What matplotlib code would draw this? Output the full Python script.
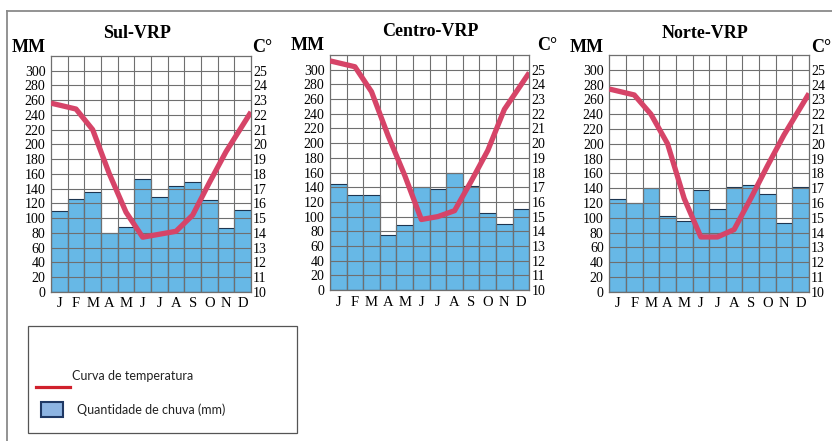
import numpy as np
import matplotlib
matplotlib.use('Agg')
from matplotlib import pyplot as plt
from matplotlib.lines import Line2D
from matplotlib.patches import Rectangle

# ── data ────────────────────────────────────────────────────────────────────
MONTHS = ['J', 'F', 'M', 'A', 'M', 'J', 'J', 'A', 'S', 'O', 'N', 'D']
TITLES = ['Sul-VRP', 'Centro-VRP', 'Norte-VRP']

RAIN_SUL    = [110, 126, 135, 80, 88, 153, 128, 144, 149, 125, 87, 111]
RAIN_CENTRO = [145, 130, 130, 75, 89, 140, 137, 160, 142, 105, 90, 110]
RAIN_NORTE  = [125, 120, 140, 103, 96, 137, 112, 142, 144, 132, 93, 141]

TEMP_SUL    = [22.8, 22.4, 21.0, 18.0, 15.4, 13.7, 13.9, 14.1, 15.2, 17.4, 19.5, 22.2]
TEMP_CENTRO = [25.6, 25.2, 23.5, 20.5, 17.8, 14.8, 15.0, 15.4, 17.4, 19.5, 22.3, 24.8]
TEMP_NORTE  = [23.7, 23.3, 22.0, 20.0, 16.3, 13.7, 13.7, 14.2, 16.3, 18.5, 20.6, 23.4]

RAIN = [RAIN_SUL, RAIN_CENTRO, RAIN_NORTE]
TEMP = [TEMP_SUL, TEMP_CENTRO, TEMP_NORTE]

MM_TICKS = list(range(0, 301, 20))
C_TICKS  = list(range(10, 26))

LEG_LINE = 'Curva de temperatura'
LEG_BAR  = 'Quantidade de chuva (mm)'

# ── style ───────────────────────────────────────────────────────────────────
W, H    = 832, 441
SERIF   = 'Liberation Serif'
BAR_C   = '#67B8E6'
BAR_EC  = '#1D3550'
GRID_C  = '#6f6f6f'
TEMP_C  = '#D64468'
FS      = 10

# axes boxes in pixels: left, right, top, bottom
BOXES = [(51, 251, 56, 291.7), (330, 529.3, 55, 290), (609.3, 809, 55, 291.7)]
TITLE_XY = [(137, 33), (430, 32), (705, 33)]
MM_XY    = [(28.5, 47), (308, 45), (587, 47)]
C_XY     = [(252, 47), (537, 45), (811, 47)]


def fx(px):
    return px / W


def fy(py):
    return 1 - py / H


fig = plt.figure(figsize=(W / 100, H / 100), dpi=100)

for i in range(3):
    l, r, t, b = BOXES[i]
    ax = fig.add_axes([fx(l), fy(b), fx(r - l), (b - t) / H])
    x = np.arange(12) + 0.5
    ax.bar(x, RAIN[i], width=1.0, color=BAR_C, edgecolor=BAR_EC,
           linewidth=0.8, zorder=1)
    ax.set_xlim(0, 12)
    ax.set_ylim(0, 320)

    # grid drawn above the bars, like in the printed climogram
    ax.set_axisbelow(False)
    ax.set_yticks(MM_TICKS)
    ax.set_xticks(x)
    ax.set_xticklabels(MONTHS, fontfamily=SERIF, fontsize=FS + 0.5)
    ax.set_xticks(np.arange(1, 12), minor=True)
    ax.grid(True, axis='y', which='major', color=GRID_C, linewidth=0.8)
    ax.grid(True, axis='x', which='minor', color=GRID_C, linewidth=0.8)
    ax.tick_params(axis='both', which='both', length=0)
    ax.tick_params(axis='y', pad=4)
    ax.tick_params(axis='x', pad=4)
    for lab in ax.get_yticklabels():
        lab.set_fontfamily(SERIF)
        lab.set_fontsize(FS)
    for sp in ax.spines.values():
        sp.set_color(GRID_C)
        sp.set_linewidth(0.9)

    ax2 = ax.twinx()
    ax2.set_ylim(10, 26)
    ax2.set_yticks(C_TICKS)
    ax2.tick_params(axis='y', length=0, pad=1.5)
    for lab in ax2.get_yticklabels():
        lab.set_fontfamily(SERIF)
        lab.set_fontsize(FS)
    for sp in ax2.spines.values():
        sp.set_visible(False)

    # first and last points of the curve sit on the frame edges
    tx = np.arange(12) + 0.5
    tx[0] = 0
    tx[-1] = 12
    ax2.plot(tx, TEMP[i], color=TEMP_C, linewidth=3.8,
             solid_joinstyle='round', solid_capstyle='butt', zorder=5)

    fig.text(fx(TITLE_XY[i][0]), fy(TITLE_XY[i][1]), TITLES[i],
             ha='center', va='center', fontfamily=SERIF,
             fontweight='bold', fontsize=13)
    fig.text(fx(MM_XY[i][0]), fy(MM_XY[i][1]), 'MM',
             ha='center', va='center', fontfamily=SERIF,
             fontweight='bold', fontsize=13)
    fig.text(fx(C_XY[i][0]), fy(C_XY[i][1]), 'C°',
             ha='left', va='center', fontfamily=SERIF,
             fontweight='bold', fontsize=13)

# ── outer frame (top and left rules) ────────────────────────────────────────
fig.add_artist(Line2D([fx(7), 1], [fy(11), fy(11)], color='#8a8a8a',
                      linewidth=1.3, transform=fig.transFigure))
fig.add_artist(Line2D([fx(7), fx(7)], [fy(11), 0], color='#8a8a8a',
                      linewidth=1.3, transform=fig.transFigure))

# ── hand-made legend box ────────────────────────────────────────────────────
fig.add_artist(Rectangle((fx(28), fy(433)), fx(297 - 28), (433 - 326) / H,
                         facecolor='white', edgecolor='#555555',
                         linewidth=0.9, transform=fig.transFigure))
fig.add_artist(Line2D([fx(36), fx(70)], [fy(387), fy(387)], color='#D0202C',
                      linewidth=2.3, transform=fig.transFigure))
fig.text(fx(72), fy(376), LEG_LINE, ha='left', va='center',
         fontfamily='Lato', fontsize=9, color='#222222')
fig.add_artist(Rectangle((fx(41), fy(417)), fx(22), 15 / H,
                         facecolor='#8DB4E2', edgecolor='#1F3864',
                         linewidth=1.5, transform=fig.transFigure))
fig.text(fx(77), fy(410), LEG_BAR, ha='left', va='center',
         fontfamily='Lato', fontsize=9, color='#222222')

fig.savefig('out.png', dpi=100)
